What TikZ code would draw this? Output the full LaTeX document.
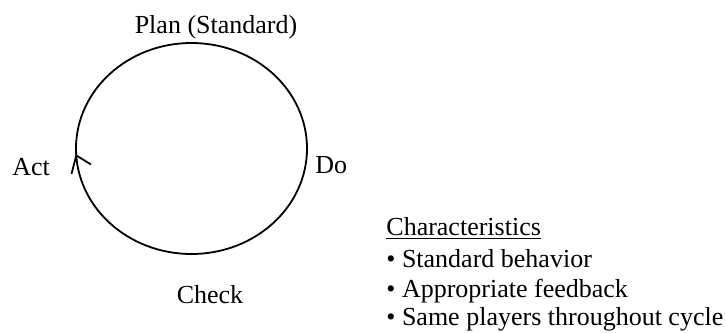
\documentclass[tikz,border=0pt]{standalone}
\usepackage{fontspec}
\setmainfont{Liberation Serif}
\usetikzlibrary{decorations.markings}
\tikzstyle{lbl}=[inner sep=0pt,anchor=base,font=\fontsize{13}{15}\selectfont]
\tikzstyle{item}=[lbl,anchor=base west]
\tikzstyle{cycle}=[line width=0.9pt,postaction={decorate},
    decoration={markings,mark=at position 0.49 with
      {\draw[line width=0.9pt] (-9pt,3pt) -- (0pt,0pt) -- (-5pt,-7pt);}}]

\begin{document}
\begin{tikzpicture}[x=0.5pt,y=-0.5pt]
            \useasboundingbox (0,0) rectangle (726,332);
            \draw[cycle] (191.5,148.5) ellipse [x radius=115.5, y radius=105.5]
            ;
            \node[lbl] (plan) at (216,33) {Plan (Standard)}
            ;
            \node[item] (do) at (315,173) {Do}
            ;
            \node[lbl] (check) at (210,303) {Check}
            ;
            \node[item] (act) at (12,175) {Act}
            ;
            \node[item] (chr) at (386,235) {\underline{Characteristics}}
            ;
            \node[item] (c1) at (386,267) {\textbullet\ Standard behavior}
            ;
            \node[item] (c2) at (386,297) {\textbullet\ Appropriate feedback}
            ;
            \node[item] (c3) at (386,325) {\textbullet\ Same players throughout cycle}
            ;
        \end{tikzpicture}
\end{document}
